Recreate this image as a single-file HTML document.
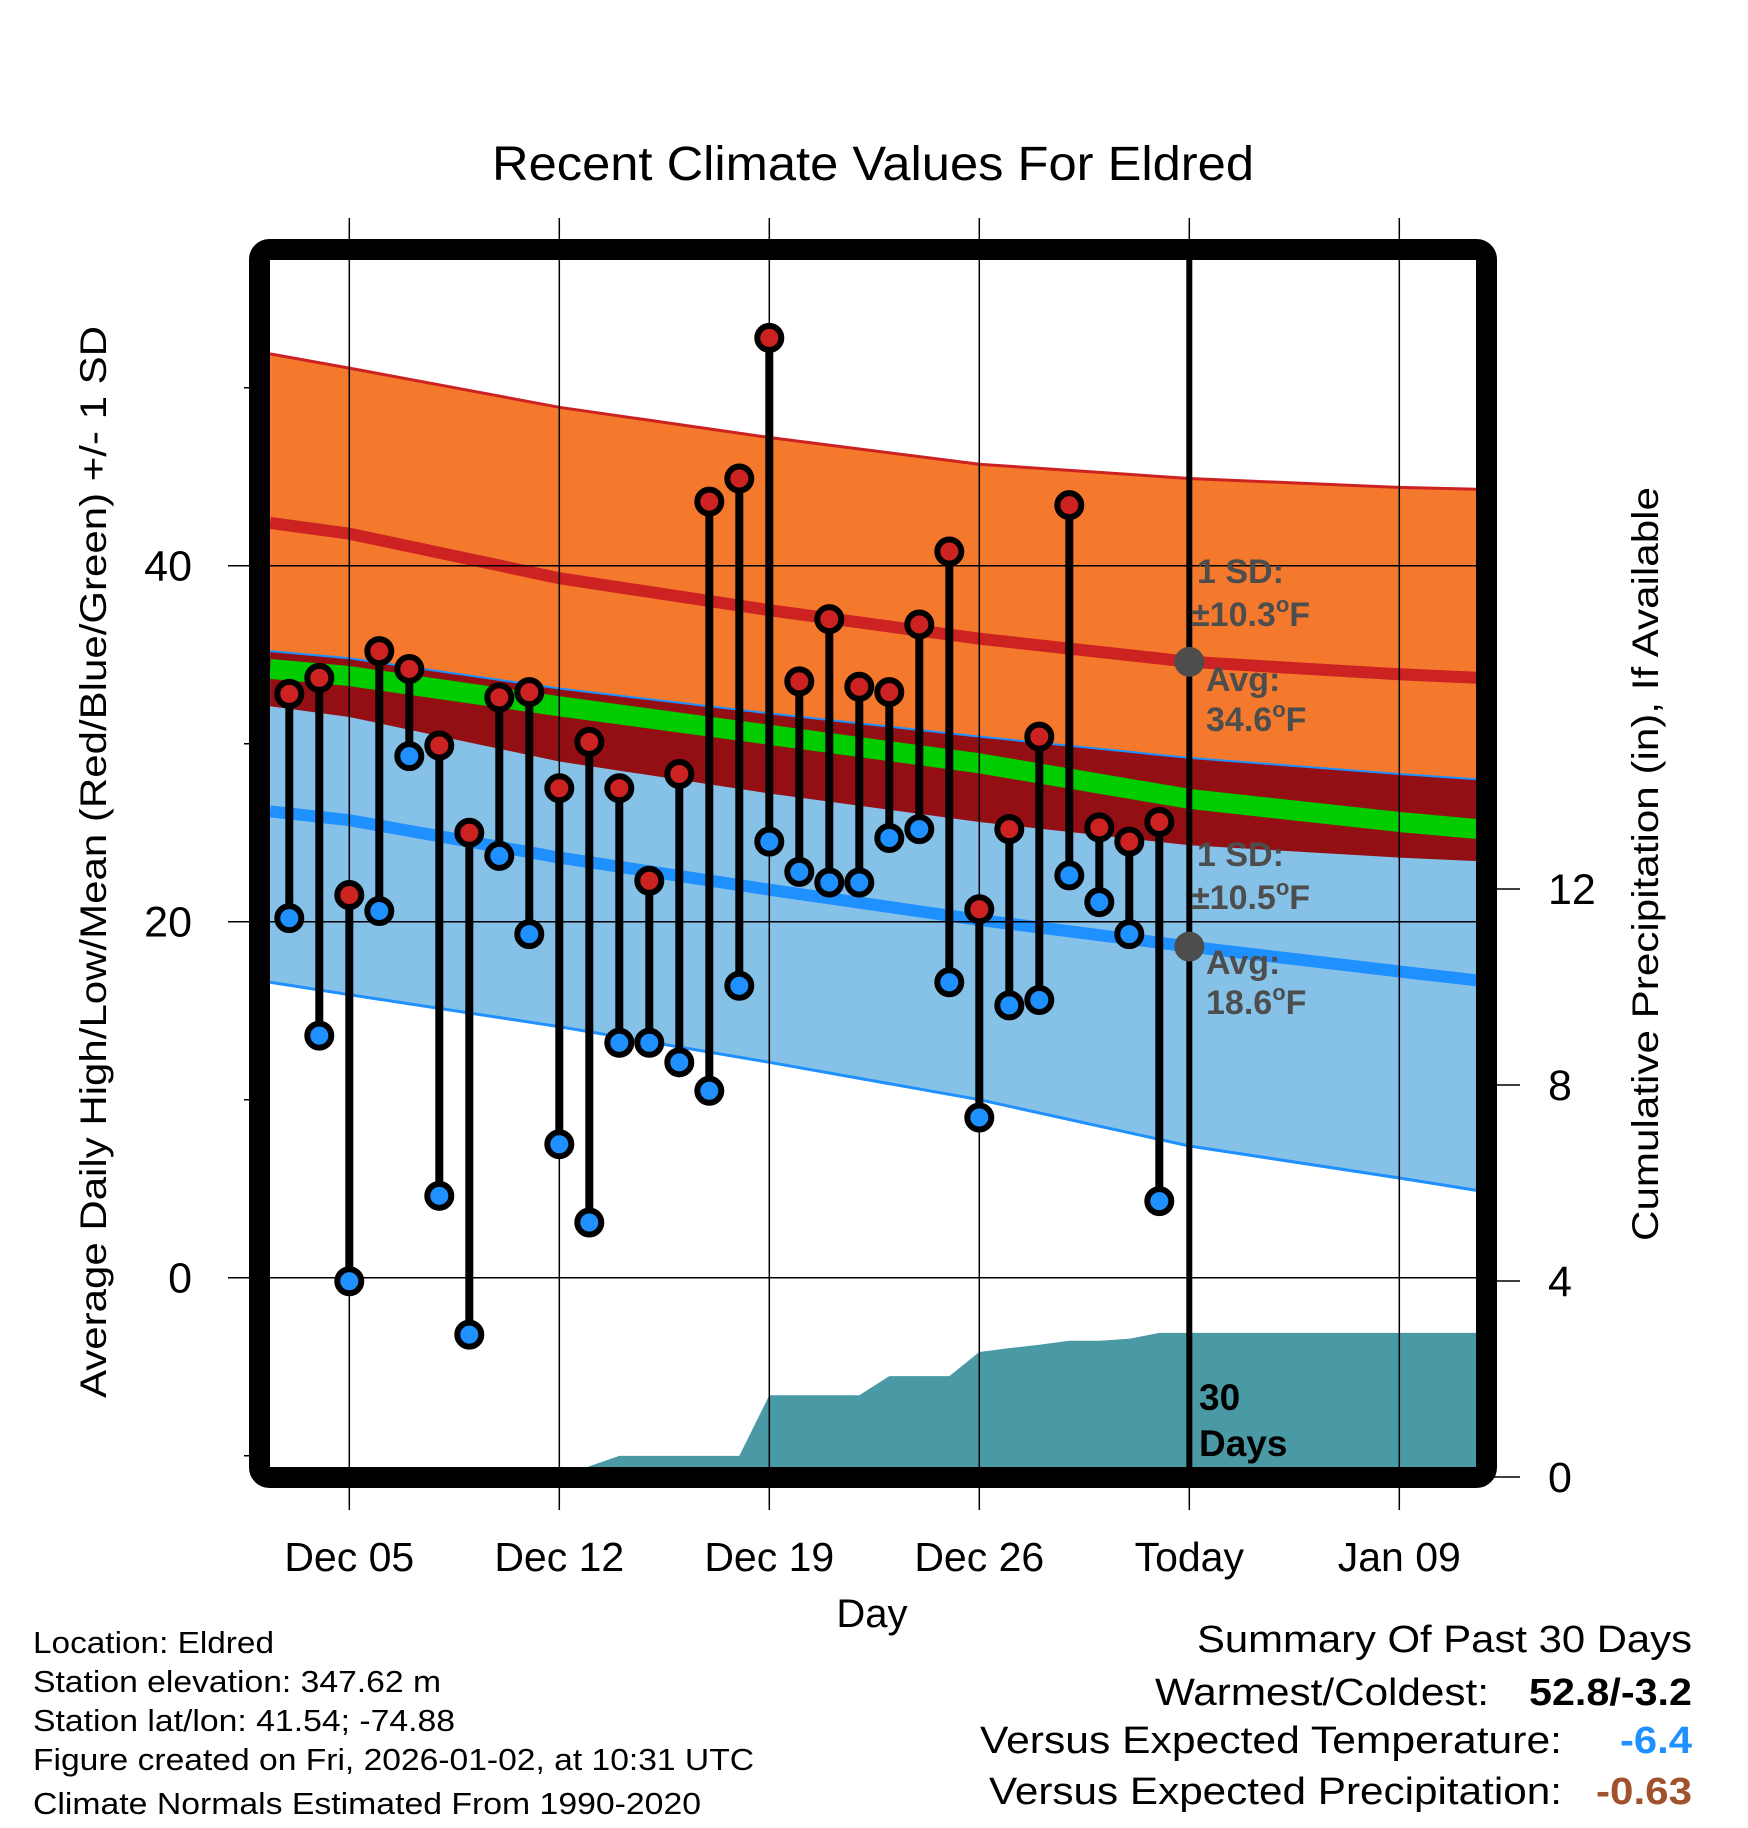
<!DOCTYPE html>
<html><head><meta charset="utf-8">
<style>
html,body{margin:0;padding:0;background:#fff;}
svg{display:block;font-family:"Liberation Sans",Arial,sans-serif;}
</style></head>
<body>
<svg id="chart" width="1748" height="1828" viewBox="0 0 1748 1828" xmlns="http://www.w3.org/2000/svg">
<text x="492" y="180" font-size="48" textLength="762" lengthAdjust="spacingAndGlyphs">Recent Climate Values For Eldred</text>
<g id="plot"></g>
<text transform="translate(106,862) rotate(-90)" font-size="37" text-anchor="middle" textLength="1072" lengthAdjust="spacingAndGlyphs">Average Daily High/Low/Mean (Red/Blue/Green) +/- 1 SD</text>
<text transform="translate(1658,864) rotate(-90)" font-size="37" text-anchor="middle" textLength="754" lengthAdjust="spacingAndGlyphs">Cumulative Precipitation (in), If Available</text>
<text x="872" y="1627" font-size="40" text-anchor="middle">Day</text>
<g font-size="31" lengthAdjust="spacingAndGlyphs">
<text x="33" y="1653" textLength="241" lengthAdjust="spacingAndGlyphs">Location: Eldred</text>
<text x="33" y="1692" textLength="408" lengthAdjust="spacingAndGlyphs">Station elevation: 347.62 m</text>
<text x="33" y="1731" textLength="422" lengthAdjust="spacingAndGlyphs">Station lat/lon: 41.54; -74.88</text>
<text x="33" y="1770" textLength="721" lengthAdjust="spacingAndGlyphs">Figure created on Fri, 2026-01-02, at 10:31 UTC</text>
<text x="33" y="1814" textLength="668" lengthAdjust="spacingAndGlyphs">Climate Normals Estimated From 1990-2020</text>
</g>
<g font-size="38">
<text x="1197" y="1652" textLength="495" lengthAdjust="spacingAndGlyphs">Summary Of Past 30 Days</text>
<text x="1155" y="1705" textLength="334" lengthAdjust="spacingAndGlyphs">Warmest/Coldest:</text>
<text x="1529" y="1705" font-weight="bold" textLength="163" lengthAdjust="spacingAndGlyphs">52.8/-3.2</text>
<text x="980" y="1753" textLength="582" lengthAdjust="spacingAndGlyphs">Versus Expected Temperature:</text>
<text x="1620" y="1753" font-weight="bold" fill="#1e90ff" textLength="72" lengthAdjust="spacingAndGlyphs">-6.4</text>
<text x="989" y="1804" textLength="573" lengthAdjust="spacingAndGlyphs">Versus Expected Precipitation:</text>
<text x="1596" y="1804" font-weight="bold" fill="#a0522d" textLength="96" lengthAdjust="spacingAndGlyphs">-0.63</text>
</g>
</svg>
<script>
// days relative to Dec 05 (0 = Dec 05)
const obsDays = [-2,-1,0,1,2,3,4,5,6,7,8,9,10,11,12,13,14,15,16,17,18,19,20,21,22,23,24,25,26,27];
const highs = [32.8,33.7,21.5,35.2,34.2,29.9,25.0,32.6,32.9,27.5,30.1,27.5,22.3,28.3,43.6,44.9,52.8,33.5,37.0,33.2,32.9,36.7,40.8,20.7,25.2,30.4,43.4,25.3,24.5,25.6];
const lows = [20.2,13.6,-0.2,20.6,29.3,4.6,-3.2,23.7,19.3,7.5,3.1,13.2,13.2,12.1,10.5,16.4,24.5,22.8,22.2,22.2,24.7,25.2,16.6,9.0,15.3,15.6,22.6,21.1,19.3,4.3];
const precip = [0,0,0,0,0,0,0,0,0,0,0.22,0.43,0.43,0.43,0.43,0.43,1.67,1.67,1.67,1.67,2.06,2.06,2.06,2.55,2.63,2.7,2.78,2.78,2.82,2.94];
const normDays = [-2.64,0,7,14,21,28,35,37.6];
const hiUpper = [51.9,51.1,48.9,47.2,45.7,44.9,44.4,44.3];
const hiMean = [42.4,41.8,39.3,37.5,35.9,34.6,33.9,33.7];
const hiLower = [32.1,31.5,29.0,27.2,25.6,24.3,23.6,23.4];
const loUpper = [35.2,34.8,33.1,31.7,30.4,29.2,28.3,28.0];
const loMean = [26.2,25.7,23.6,21.8,20.1,18.6,17.2,16.7];
const loLower = [16.6,15.9,14.1,12.1,10.0,7.4,5.6,4.9];
const meanLine = [34.2,33.8,32.1,30.5,28.9,26.9,25.6,25.2];
const xTickDays = [0,7,14,21,28,35];
const xTickLabels = ["Dec 05","Dec 12","Dec 19","Dec 26","Today","Jan 09"];
const yTicks = [0,20,40];
const yMinor = [-10,10,30,50];
const y2Ticks = [0,4,8,12];
const todayDay = 28;

const X = d => 349.3 + 30*d;
const Y = v => 1277.7 - 17.8*v;
const Y2 = v => 1477 - 49*v;
const L=270,R=1477,T=260,B=1468;
const NS="http://www.w3.org/2000/svg";
const plot=document.getElementById('plot');
function el(tag,attrs,parent){const e=document.createElementNS(NS,tag);for(const k in attrs)e.setAttribute(k,attrs[k]);(parent||plot).appendChild(e);return e;}
const clip=el('clipPath',{id:'clipInner'});el('rect',{x:L,y:T,width:R-L,height:B-T},clip);
const g=el('g',{'clip-path':'url(#clipInner)'});


const pts=(arr)=>normDays.map((d,i)=>X(d).toFixed(1)+','+Y(arr[i]).toFixed(1));
function band(up,lo,fill,name){const p=el('polygon',{points:pts(up).concat(pts(lo).reverse()).join(' '),fill:fill},g);

}
function line(arr,col,w,name){const p=el('polyline',{points:pts(arr).join(' '),fill:'none',stroke:col,'stroke-width':w},g);

}
band(hiUpper,hiLower,'#f4792c','high-sd-band');
band(loUpper,loLower,'#86c1e8','low-sd-band');
band(loUpper,hiLower,'#930f13','overlap-band');
// precip area
let pp=[X(obsDays[0])+','+Y2(0)];
obsDays.forEach((d,i)=>pp.push(X(d).toFixed(1)+','+Y2(precip[i]).toFixed(1)));
pp.push(R+','+Y2(precip[precip.length-1]).toFixed(1));pp.push(R+','+Y2(0));
const pa=el('polygon',{points:pp.join(' '),fill:'#4a9aa5'},g);


line(meanLine,'#00cc00',20,'mean-line');
line(hiMean,'#cc2222',12,'high-mean-line');
line(loMean,'#1e90ff',12,'low-mean-line');
line(hiUpper,'#cc2222',3,'high-upper-line');
line(loUpper,'#1e90ff',2,'low-upper-line');
line(loLower,'#1e90ff',3,'low-lower-line');
// grid
xTickDays.forEach(d=>{const l=el('line',{x1:X(d),x2:X(d),y1:218,y2:1510,stroke:'#000','stroke-width':1.5});

});
yTicks.forEach(v=>{const l=el('line',{x1:228,x2:R,y1:Y(v),y2:Y(v),stroke:'#000','stroke-width':1.5});

});
yMinor.forEach(v=>{const l=el('line',{x1:244,x2:L,y1:Y(v),y2:Y(v),stroke:'#000','stroke-width':1.5});

});
y2Ticks.forEach(v=>{const l=el('line',{x1:R,x2:1520,y1:Y2(v),y2:Y2(v),stroke:'#000','stroke-width':1.5});

});
// today line
const tl=el('line',{x1:X(todayDay),x2:X(todayDay),y1:T,y2:B,stroke:'#000','stroke-width':6});


// annotations
const ann=el('g',{fill:'#4d4d4d','font-weight':'bold','font-size':'34'});


function annText(x,y,main,deg){const t=el('text',{x:x,y:y},ann);
 if(deg){t.appendChild(document.createTextNode(main));const s=el('tspan',{'font-size':'22',dy:'-14'},t);s.textContent='o';const f=el('tspan',{dy:'14'},t);f.textContent='F';}
 else t.textContent=main;}
annText(1197,583,'1 SD:');annText(1191,626,'±10.3',true);annText(1206,691,'Avg:');annText(1206,731,'34.6',true);
annText(1197,866,'1 SD:');annText(1191,909,'±10.5',true);annText(1206,974,'Avg:');annText(1206,1014,'18.6',true);
[hiMean[5],loMean[5]].forEach(v=>{const c=el('circle',{cx:X(todayDay),cy:Y(v),r:15,fill:'#4d4d4d'});

});
const dl=el('g',{'font-weight':'bold','font-size':'37'});


const t1=el('text',{x:1199,y:1410},dl);t1.textContent='30';
const t2=el('text',{x:1199,y:1456},dl);t2.textContent='Days';
// obs sticks & markers
obsDays.forEach((d,i)=>{
 const s=el('line',{x1:X(d),x2:X(d),y1:Y(highs[i]),y2:Y(lows[i]),stroke:'#000','stroke-width':8});
 
 
 const h=el('circle',{cx:X(d),cy:Y(highs[i]),r:12,fill:'#cc2222',stroke:'#000','stroke-width':6});
 
 
 const lo=el('circle',{cx:X(d),cy:Y(lows[i]),r:12,fill:'#1e90ff',stroke:'#000','stroke-width':6});
 
 
});
// frame
const fr=el('rect',{x:259.5,y:249.5,width:1227,height:1228,rx:10,fill:'none',stroke:'#000','stroke-width':21});


// tick labels
yTicks.forEach(v=>{const t=el('text',{x:192,y:Y(v)+15,'font-size':'43','text-anchor':'end'});t.textContent=v;

});
y2Ticks.forEach(v=>{const t=el('text',{x:1548,y:Y2(v)+15,'font-size':'43'});t.textContent=v;

});
xTickDays.forEach((d,i)=>{const t=el('text',{x:X(d),y:1571,'font-size':'41','text-anchor':'middle'});t.textContent=xTickLabels[i];

});
</script>
</body></html>
